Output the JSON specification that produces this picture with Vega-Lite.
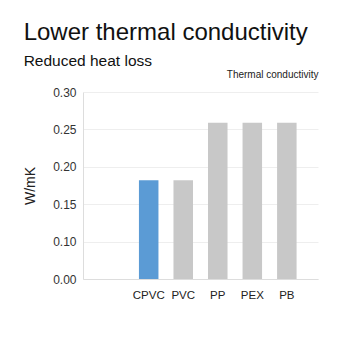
{
  "$schema": "https://vega.github.io/schema/vega-lite/v6.json",
  "width": 235,
  "height": 187,
  "padding": {"left": 23, "top": 20, "right": 5, "bottom": 5},
  "title": {
    "text": "Lower thermal conductivity",
    "subtitle": "Reduced heat loss",
    "anchor": "start",
    "frame": "bounds",
    "font": "Liberation Sans",
    "fontSize": 24,
    "fontWeight": "normal",
    "color": "#111111",
    "subtitleFont": "Liberation Sans",
    "subtitleFontSize": 15.5,
    "subtitleColor": "#111111",
    "subtitlePadding": 9,
    "offset": 0
  },
  "data": {
    "values": [
      {"material": "CPVC", "conductivity": 0.182},
      {"material": "PVC", "conductivity": 0.182},
      {"material": "PP", "conductivity": 0.259},
      {"material": "PEX", "conductivity": 0.259},
      {"material": "PB", "conductivity": 0.259}
    ]
  },
  "encoding": {
    "y": {
      "field": "conductivity",
      "type": "quantitative",
      "scale": {"domain": [0.05, 0.30], "nice": false, "zero": false},
      "axis": {
        "title": "W/mK",
        "values": [0.05, 0.10, 0.15, 0.20, 0.25, 0.30],
        "labelExpr": "datum.value < 0.06 ? '0.00' : format(datum.value, '.2f')",
        "ticks": false,
        "labelPadding": 7,
        "titlePadding": 15,
        "titleFontSize": 14,
        "titleFontWeight": "normal",
        "titleColor": "#222222",
        "labelFontSize": 12,
        "labelColor": "#333333",
        "domain": true,
        "domainColor": "#dddddd",
        "grid": true,
        "gridColor": "#eeeeee"
      }
    },
    "y2": {"datum": 0.05}
  },
  "layer": [
    {
      "mark": {"type": "bar"},
      "encoding": {
        "x": {
          "field": "material",
          "type": "nominal",
          "sort": null,
          "scale": {"domain": [" ", "CPVC", "PVC", "PP", "PEX", "PB"], "paddingInner": 0.435, "paddingOuter": 0.62},
          "axis": {
            "orient": "bottom",
            "title": null,
            "labelAngle": 0,
            "ticks": false,
            "labelPadding": 10,
            "labelFontSize": 11.5,
            "labelColor": "#222222",
            "domainColor": "#dddddd",
            "grid": false
          }
        },
        "color": {
          "condition": {"test": "datum.material === 'CPVC'", "value": "#5b9bd5"},
          "value": "#c8c8c8"
        }
      }
    },
    {
      "mark": {"type": "bar", "opacity": 0},
      "encoding": {
        "x": {
          "field": "material",
          "type": "nominal",
          "sort": null,
          "axis": {
            "orient": "top",
            "title": "Thermal conductivity",
            "titleAnchor": "end",
            "titleFontSize": 10,
            "titleFontWeight": "normal",
            "titleColor": "#222222",
            "titlePadding": 13,
            "labels": false,
            "ticks": false,
            "domain": false,
            "grid": false
          }
        }
      }
    }
  ],
  "resolve": {"axis": {"x": "independent"}},
  "config": {
    "font": "Liberation Sans",
    "view": {"stroke": null},
    "axis": {"labelFont": "Liberation Sans", "titleFont": "Liberation Sans"}
  }
}
